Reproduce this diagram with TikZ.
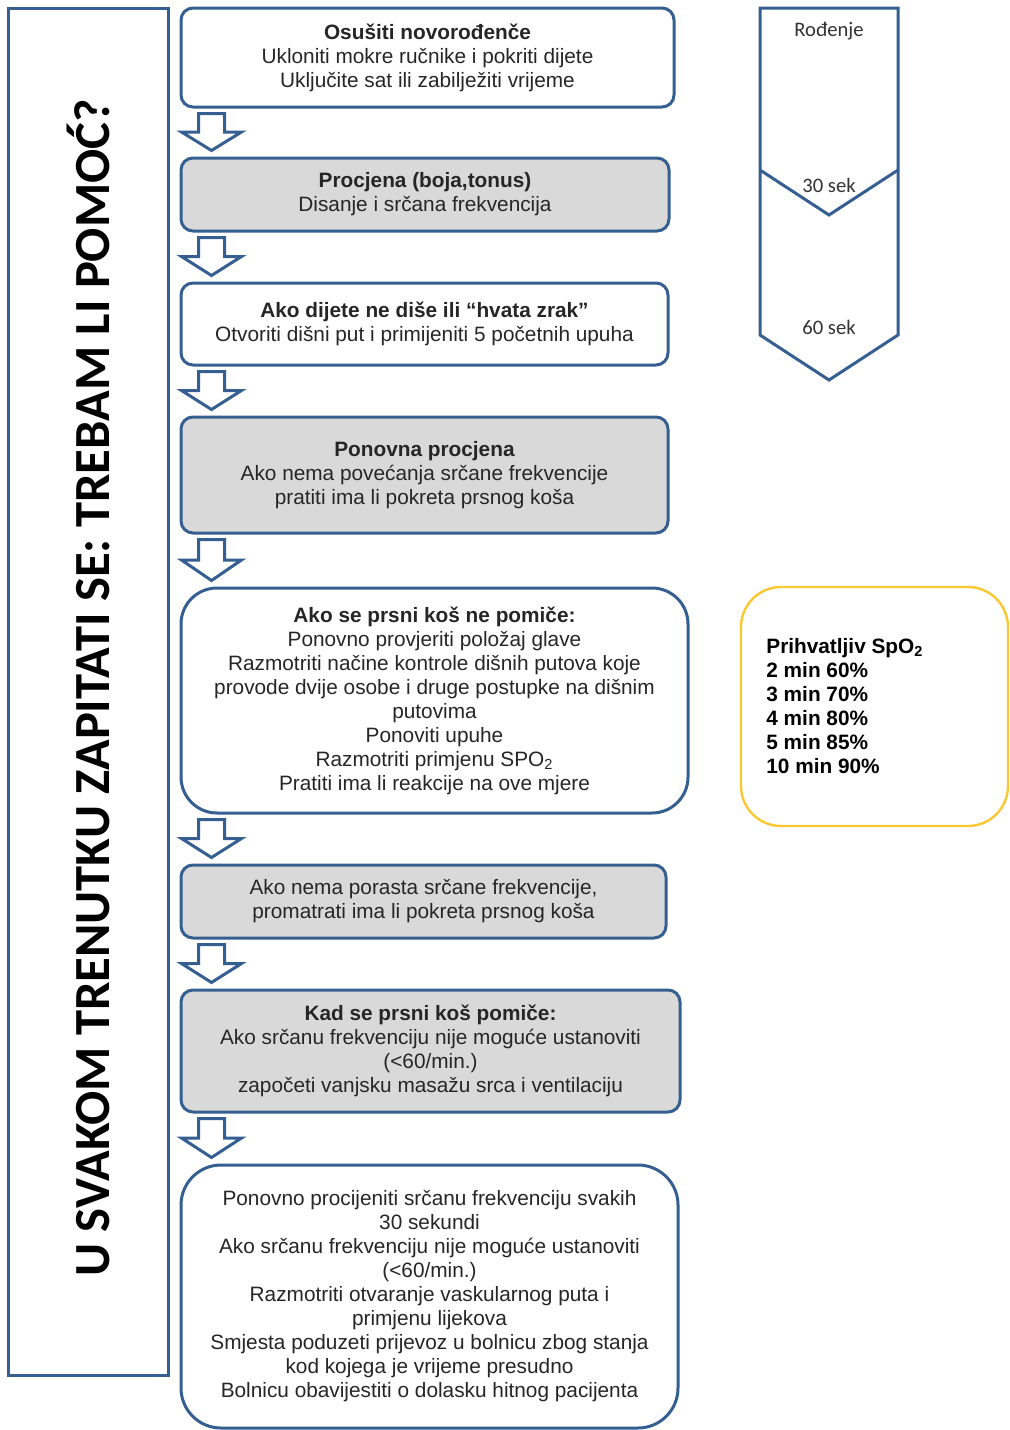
\documentclass[tikz,border=0pt]{standalone}
\usepackage{fontspec}
\setmainfont{Liberation Sans}
\newfontfamily\calfont{Carlito}
\usetikzlibrary{calc}
\definecolor{bblue}{RGB}{54,95,145}
\definecolor{bgray}{RGB}{217,217,217}
\definecolor{byellow}{RGB}{250,200,50}
\newcommand\blockarr[2]{%
  \draw[arr] let \p1=($(#1.south west)+(32,5)$), \p2=($(#2.north west)+(32,-6)$), \n1={(\y1+\y2)/2} in
    (\x1-6.5pt,\y1) -- (\x1+6.5pt,\y1) -- (\x1+6.5pt,\n1) -- (\x1+15pt,\n1) -- (\x1,\y2)
    -- (\x1-15pt,\n1) -- (\x1-6.5pt,\n1) -- cycle;}
\begin{document}
\begin{tikzpicture}[x=0.5pt,y=-0.5pt,
  box/.style={draw=bblue,line width=1.5pt,rounded corners=6pt,align=center,inner sep=0pt,
    font=\fontsize{10.4}{12}\selectfont,text=black!85},
  gbox/.style={box,fill=bgray},
  bigbox/.style={box,rounded corners=18pt},
  arr/.style={draw=bblue,line width=1.5pt,fill=white,line join=miter},
  tl/.style={draw=bblue,line width=1.5pt,line join=miter},
  tltext/.style={font=\calfont\fontsize{10.3}{12}\selectfont,text=black!80,inner sep=0pt}]
\useasboundingbox (0,0) rectangle (1009,1430);
\fill[white] (0,0) rectangle (1009,1430);

% left side box
\node[draw=bblue,line width=1.5pt,minimum width=80pt,minimum height=683.5pt,inner sep=0pt] (side) at (88,691.5) {};
\node[rotate=90,font=\calfont\bfseries\fontsize{25.3}{30}\selectfont,inner sep=0pt] (title) at (88,688)
  {U SVAKOM TRENUTKU ZAPITATI SE: TREBAM LI POMOĆ?};

% flow boxes
\node[box,minimum width=246.5pt,minimum height=49.5pt] (b1) at (427.5,57.5)
  {\textbf{Osušiti novorođenče}\\Ukloniti mokre ručnike i pokriti dijete\\Uključite sat ili zabilježiti vrijeme};
\node[gbox,minimum width=244pt,minimum height=36.5pt] (b2) at (425,194.5)
  {\textbf{Procjena (boja,tonus)}\\Disanje i srčana frekvencija};
\node[box,minimum width=243.5pt,minimum height=41pt] (b3) at (424.5,324)
  {\textbf{Ako dijete ne diše ili “hvata zrak”}\\Otvoriti dišni put i primijeniti 5 početnih upuha};
\node[gbox,minimum width=243.5pt,minimum height=58pt] (b4) at (424.5,475)
  {\textbf{Ponovna procjena}\\Ako nema povećanja srčane frekvencije\\pratiti ima li pokreta prsnog koša};
\node[bigbox,minimum width=253.5pt,minimum height=112.5pt] (b5) at (434.5,700.5)
  {\textbf{Ako se prsni koš ne pomiče:}\\Ponovno provjeriti položaj glave\\Razmotriti načine kontrole dišnih putova koje\\provode dvije osobe i druge postupke na dišnim\\putovima\\Ponoviti upuhe\\Razmotriti primjenu SPO\textsubscript{2}\\Pratiti ima li reakcije na ove mjere};
\node[gbox,minimum width=242.5pt,minimum height=36.5pt] (b6) at (423.5,901.5)
  {Ako nema porasta srčane frekvencije,\\promatrati ima li pokreta prsnog koša};
\node[gbox,minimum width=249.5pt,minimum height=61pt] (b7) at (430.5,1051)
  {\textbf{Kad se prsni koš pomiče:}\\Ako srčanu frekvenciju nije moguće ustanoviti\\(<60/min.)\\započeti vanjsku masažu srca i ventilaciju};
\node[bigbox,rounded corners=20pt,minimum width=248.5pt,minimum height=131.5pt] (b8) at (429.5,1296.5)
  {Ponovno procijeniti srčanu frekvenciju svakih\\30 sekundi\\Ako srčanu frekvenciju nije moguće ustanoviti\\(<60/min.)\\Razmotriti otvaranje vaskularnog puta i\\primjenu lijekova\\Smjesta poduzeti prijevoz u bolnicu zbog stanja\\kod kojega je vrijeme presudno\\Bolnicu obavijestiti o dolasku hitnog pacijenta};

% block arrows
\blockarr{b1}{b2}
\blockarr{b2}{b3}
\blockarr{b3}{b4}
\blockarr{b4}{b5}
\blockarr{b5}{b6}
\blockarr{b6}{b7}
\blockarr{b7}{b8}

% timeline
\draw[tl] (760,8) -- (898,8) -- (898,335) -- (829,380) -- (760,335) -- cycle;
\draw[tl] (760,170) -- (829,215) -- (898,170);
\node[tltext] (t0) at (829,31) {Rođenje};
\node[tltext] (t30) at (829,185) {30 sek};
\node[tltext] (t60) at (829,327) {60 sek};

% SpO2 box
\node[draw=byellow,line width=1.2pt,rounded corners=20pt,minimum width=133.5pt,minimum height=119.5pt,inner sep=0pt] (spo) at (874.5,706.5) {};
\node[anchor=north west,align=left,inner sep=0pt,font=\bfseries\fontsize{10.4}{12}\selectfont] (spotext) at (766,638)
  {Prihvatljiv SpO\textsubscript{2}\\2 min 60\%\\3 min 70\%\\4 min 80\%\\5 min 85\%\\10 min 90\%};
\end{tikzpicture}
\end{document}
